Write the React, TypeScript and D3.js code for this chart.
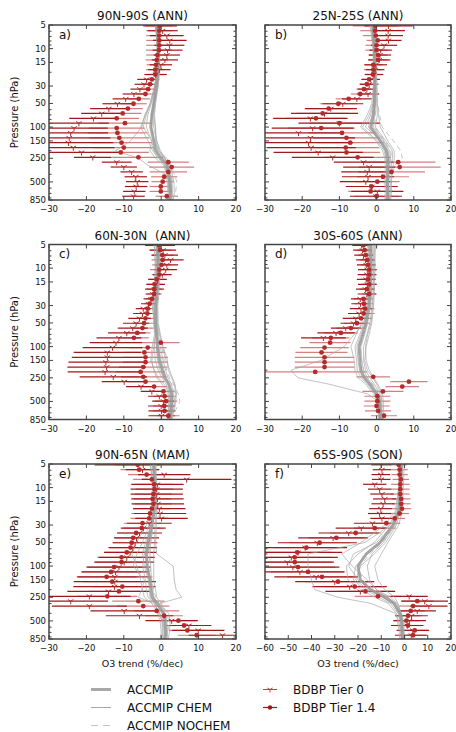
import React from "react";
import * as d3 from "d3";

// BDBP pressure levels (hPa), top to bottom
const LEVELS = [5.12, 5.91, 6.82, 7.86, 9.07, 10.46, 12.07, 13.93, 16.07, 18.54, 21.38, 24.67, 28.46, 32.83, 37.87, 43.69, 50.4, 58.14, 67.07, 77.37, 89.26, 103.0, 118.8, 137.0, 158.1, 182.4, 210.4, 242.7, 280.0, 323.0, 372.6, 429.9, 495.9, 572.1, 660.0, 761.4];
// ACCMIP model levels (hPa), bottom to top
const MODEL_LEVELS = [850, 700, 500, 400, 300, 250, 200, 150, 100, 70, 50, 30, 20, 10, 7, 5];

const Y_MAJOR = [5, 10, 15, 30, 50, 100, 150, 250, 500, 850];
const Y_MINOR = [6, 7, 8, 9, 20, 40, 60, 70, 80, 90, 200, 300, 400, 600, 700, 800];

const TITLES = ["90N-90S (ANN)", "25N-25S (ANN)", "60N-30N  (ANN)", "30S-60S (ANN)", "90N-65N (MAM)", "65S-90S (SON)"];
const LETTERS = ["a)", "b)", "c)", "d)", "e)", "f)"];
const X_DOMAINS = [[-30, 20], [-30, 20], [-30, 20], [-30, 20], [-30, 20], [-60, 20]];

// ---- Panel a ----
const T14_A = [-0.5, -0.5, -0.5, -0.5, -0.5, -0.6, -1.0, -1.2, -1.4, -1.6, -1.6, -2.5, -3.0, -3.5, -4.2, -6.0, -7.4, -8.9, -10.3, -11.9, -9.7, -11.9, -11.7, -11.2, -10.6, -10.0, -10.8, -6.1, 1.9, 2.8, 1.9, 0.8, 0.4, -0.1, -0.1, 1.5];
const E14_A = [3.5, 3.5, 3.5, 3.5, 3.5, 3.5, 3.0, 3.0, 2.5, 2.5, 2.5, 2.0, 2.0, 2.0, 2.5, 3.0, 3.5, 4.0, 5.0, 6.0, 7.0, 7.5, 8.0, 8.0, 8.0, 8.0, 7.5, 7.0, 5.5, 6.0, 5.0, 3.5, 3.0, 3.0, 3.0, 3.0];
const T0_A = [-0.3, 0.4, 1.5, 2.3, 2.2, 1.7, 1.5, 1.0, -0.1, -0.5, -1.5, -3.9, -4.6, -5.7, -7.3, -9.5, -11.7, -14.0, -15.9, -18.1, -22.0, -23.3, -24.2, -24.6, -24.8, -23.5, -21.3, -18.3, -11.9, -10.0, -7.9, -6.8, -6.4, -6.7, -7.2, -7.4];
const E0_A = [4.5, 4.0, 4.5, 4.5, 4.0, 4.0, 3.5, 3.5, 3.0, 3.0, 3.0, 2.5, 2.5, 2.5, 3.0, 3.5, 4.0, 5.0, 5.5, 6.5, 8.0, 9.0, 10.0, 11.0, 12.0, 11.0, 10.0, 5.0, 4.0, 3.5, 3.0, 3.0, 3.0, 3.0, 3.0, 3.0];
const MEAN_A = [2.3, 2.5, 2.3, 2.0, 1.5, 0.0, -1.5, -2.0, -2.8, -2.5, -2.0, -1.3, -0.9, -0.8, -1.0, -1.3];
const CHEM_A = [
  [2.0, 2.2, 2.0, 1.6, 0.8, -0.8, -2.3, -3.5, -5.5, -4.2, -2.8, -1.6, -1.2, -1.0, -1.1, -1.4],
  [1.5, 1.8, 1.6, 1.2, -3.9, -6.0, -12.2, -8.2, -5.2, -4.4, -3.0, -1.8, -1.3, -1.1, -1.2, -1.6],
  [2.8, 3.0, 2.9, 2.6, 2.0, 1.0, -0.2, -1.2, -2.0, -2.2, -1.8, -1.0, -0.6, -0.5, -0.8, -1.0],
  [3.2, 3.5, 3.4, 3.0, 2.5, 1.5, -0.8, -1.5, -1.5, -1.8, -1.5, -0.8, -0.4, -0.4, -0.6, -0.9],
  [2.1, 2.4, 2.2, 2.0, 1.0, -0.5, -2.0, -2.5, -4.0, -3.6, -2.6, -1.5, -1.0, -0.9, -1.1, -1.5],
  [2.5, 2.7, 2.4, 2.2, 1.6, 0.8, -1.0, -1.8, -2.5, -2.6, -2.0, -1.1, -0.8, -0.7, -0.9, -1.2],
  [1.8, 2.0, 1.9, 1.5, 0.5, -1.5, -3.0, -2.5, -4.8, -4.0, -2.9, -1.7, -1.1, -0.9, -1.0, -1.3],
  [2.6, 2.9, 2.7, 2.4, 1.8, 1.0, -0.5, -1.2, -1.6, -2.0, -1.6, -0.9, -0.7, -0.6, -0.9, -1.1],
];
const NOCHEM_A = [
  [3.0, 3.8, 4.2, 3.5, 2.5, 1.0, -0.8, -1.5, -2.5, -2.5, -2.0, -1.2, -0.8, -0.7, -0.9, -1.2],
  [2.2, 2.6, 3.0, 2.8, 2.2, 0.8, -0.5, -1.8, -2.8, -2.7, -2.1, -1.3, -0.9, -0.8, -1.0, -1.3],
];

// ---- Panel b ----
const T14_B = [-0.4, -0.4, -0.2, 0.3, 0.0, 0.0, 0.4, 0.4, -0.9, -0.9, -1.0, -2.0, -2.6, -3.4, -4.4, -7.5, -10.3, -12.9, -14.5, -16.3, -10.0, -14.9, -9.3, -8.1, -7.1, -8.3, -8.1, -5.1, 5.8, 6.2, 4.0, 1.7, 0.2, -1.4, -1.6, 0.0];
const E14_B = [6.0, 4.0, 3.5, 3.0, 3.0, 3.0, 2.5, 2.5, 2.5, 2.5, 2.0, 2.0, 2.0, 2.0, 2.5, 3.5, 5.0, 6.0, 7.0, 8.0, 8.0, 9.0, 9.0, 9.0, 9.0, 9.0, 9.0, 9.0, 10.0, 11.0, 9.0, 7.0, 6.0, 6.0, 6.0, 6.0];
const T0_B = [3.2, 3.1, 3.1, 3.2, 2.0, 1.1, 0.9, 0.7, -0.2, -0.4, -0.7, -1.6, -2.0, -2.6, -2.3, -5.3, -9.1, -12.3, -14.0, -17.8, -10.0, -17.2, -21.0, -17.8, -18.3, -17.6, -15.7, -11.8, -3.5, -2.0, -2.5, -2.3, -2.9, -1.3, 0.2, -0.2];
const E0_B = [6.5, 4.5, 4.0, 3.5, 3.5, 3.0, 3.0, 3.0, 3.0, 2.5, 2.5, 2.5, 2.5, 2.5, 3.0, 4.0, 5.5, 7.0, 9.0, 10.0, 11.0, 11.0, 12.0, 12.0, 12.0, 12.0, 12.0, 11.0, 8.0, 7.0, 7.0, 7.0, 7.0, 7.0, 7.0, 7.0];
const MEAN_B = [3.0, 3.0, 2.9, 3.0, 3.0, 3.0, 2.6, 1.0, -1.6, -0.9, -0.6, -0.5, -0.5, -0.6, -0.8, -1.0];
const CHEM_B = [
  [2.5, 2.6, 2.5, 2.6, 2.7, 2.5, 2.0, 0.2, -3.8, -2.0, -1.0, -0.7, -0.6, -0.8, -1.2, -1.6],
  [3.6, 3.7, 3.8, 3.9, 4.0, 4.3, 4.2, 2.5, -0.3, 0.2, 0.0, 0.0, 0.0, -0.2, -0.3, -0.5],
  [2.2, 2.3, 2.2, 2.3, 2.3, 2.2, 1.6, -0.2, -4.3, -2.5, -1.3, -0.9, -0.8, -1.0, -1.4, -1.8],
  [3.3, 3.4, 3.3, 3.5, 3.6, 3.8, 3.5, 2.0, -0.8, -0.5, -0.3, -0.2, -0.3, -0.4, -0.6, -0.8],
  [2.8, 2.9, 2.7, 2.8, 2.8, 2.6, 2.4, 0.8, -2.2, -1.2, -0.7, -0.6, -0.6, -0.7, -0.9, -1.2],
  [3.8, 4.0, 4.0, 4.2, 4.5, 4.8, 4.7, 3.0, 1.0, 0.5, 0.2, 0.1, 0.0, -0.1, -0.2, -0.4],
  [2.6, 2.8, 2.6, 2.7, 3.0, 3.2, 3.0, 1.4, -3.0, -1.6, -0.9, -0.6, -0.5, -0.7, -1.0, -1.4],
  [3.1, 3.2, 3.1, 3.2, 3.4, 3.5, 3.1, 1.8, -1.2, -0.7, -0.4, -0.4, -0.4, -0.5, -0.7, -0.9],
];
const NOCHEM_B = [
  [3.5, 3.6, 3.8, 4.2, 5.0, 6.9, 6.5, 4.5, 1.5, 0.8, 0.3, 0.0, -0.1, -0.3, -0.5, -0.7],
  [2.4, 2.5, 2.8, 3.0, 3.5, 4.0, 3.8, 2.2, -0.5, -0.3, -0.2, -0.3, -0.4, -0.5, -0.7, -0.9],
];

// ---- Panel c ----
const T14_C = [-0.6, -0.3, 0.3, 0.4, 0.1, -0.5, -0.5, -1.2, -1.8, -1.9, -1.9, -2.5, -3.1, -3.6, -3.7, -4.2, -4.6, -5.0, -6.4, -7.3, -0.1, -3.6, -4.5, -4.2, -4.2, -4.8, -5.5, -4.8, -4.2, -1.9, 0.6, 0.9, 1.3, 0.8, 0.9, 1.9];
const E14_C = [3.5, 3.0, 3.0, 3.0, 2.5, 2.5, 2.0, 2.0, 2.0, 2.0, 2.0, 1.5, 1.5, 1.5, 2.0, 2.5, 3.0, 3.0, 3.5, 4.0, 5.0, 5.0, 5.5, 6.0, 6.0, 6.5, 6.5, 6.0, 5.0, 3.5, 3.0, 3.0, 3.0, 3.0, 3.0, 3.0];
const T0_C = [-0.3, 0.5, 1.0, 2.5, 1.5, 1.2, 0.3, -1.0, -1.5, -1.8, -2.2, -2.7, -3.4, -4.8, -5.0, -5.8, -6.7, -7.6, -9.2, -11.3, -12.1, -13.0, -14.4, -14.4, -14.8, -14.6, -15.0, -12.8, -9.9, -5.4, -2.5, -0.5, 0.6, 0.0, 0.1, 0.1];
const E0_C = [4.0, 3.5, 3.5, 3.5, 3.0, 3.0, 2.5, 2.5, 2.5, 2.5, 2.0, 2.0, 2.0, 2.0, 2.5, 3.0, 3.5, 4.0, 5.0, 6.0, 7.0, 8.0, 9.0, 9.5, 10.0, 10.5, 10.0, 9.0, 6.0, 4.0, 3.0, 3.0, 3.0, 3.5, 3.5, 3.5];
const MEAN_C = [2.3, 2.6, 2.8, 2.8, 2.0, 1.0, 0.3, -0.5, -1.0, -1.2, -1.5, -1.5, -1.2, -0.9, -0.9, -1.0];
const CHEM_C = [
  [1.8, 2.0, 2.2, 2.1, 0.8, -0.8, -1.8, -2.8, -2.4, -1.8, -2.0, -2.2, -1.8, -1.5, -1.6, -1.8],
  [2.8, 3.2, 3.6, 3.9, 3.5, 2.8, 1.9, 1.7, 0.5, -0.2, -0.8, -0.9, -0.6, -0.2, -0.3, -0.4],
  [2.0, 2.3, 2.4, 2.3, 1.3, 0.2, -0.8, -1.6, -1.8, -1.6, -1.9, -2.0, -1.6, -1.2, -1.2, -1.4],
  [2.6, 2.9, 3.2, 3.3, 2.7, 1.8, 1.2, 0.5, -0.3, -0.7, -1.1, -1.1, -0.9, -0.6, -0.6, -0.7],
  [2.2, 2.5, 2.6, 2.5, 1.8, 0.6, -0.3, -1.0, -1.3, -1.4, -1.7, -1.7, -1.4, -1.0, -1.0, -1.2],
  [2.9, 3.3, 3.9, 4.1, 3.7, 3.0, 2.3, 1.3, 0.3, -0.4, -1.0, -1.2, -0.8, -0.4, -0.5, -0.6],
  [1.6, 1.9, 2.0, 1.8, 0.2, -1.2, -2.0, -2.5, -2.0, -1.5, -1.8, -2.4, -2.0, -1.6, -1.7, -1.9],
  [2.4, 2.7, 3.0, 3.0, 2.3, 1.3, 0.8, 0.0, -0.8, -1.0, -1.3, -1.3, -1.1, -0.8, -0.8, -0.9],
];
const NOCHEM_C = [
  [2.5, 3.5, 5.0, 4.6, 3.2, 2.2, 1.5, 0.8, 0.2, -0.5, -1.0, -1.3, -1.0, -0.6, -0.7, -0.8],
  [2.0, 2.8, 3.5, 3.8, 2.8, 1.6, 0.5, -0.2, -0.6, -0.9, -1.3, -1.4, -1.1, -0.8, -0.8, -0.9],
];

// ---- Panel d ----
const T14_D = [-3.5, -3.2, -2.9, -2.5, -2.3, -2.0, -2.0, -2.3, -2.0, -2.6, -2.0, -3.5, -3.4, -3.1, -3.5, -4.2, -5.3, -6.9, -9.6, -12.3, -12.5, -14.0, -14.8, -14.0, -14.0, -14.0, -16.5, -0.9, 8.7, 6.9, 1.7, 0.2, 0.2, 0.0, 0.4, 2.0];
const E14_D = [2.0, 2.0, 2.0, 2.0, 2.0, 2.0, 2.0, 2.0, 2.0, 2.0, 2.0, 2.5, 2.5, 2.5, 3.0, 3.0, 3.5, 4.0, 4.5, 5.0, 5.5, 6.5, 7.0, 8.0, 8.0, 8.0, 14.0, 4.5, 5.0, 4.5, 5.5, 3.5, 3.5, 3.5, 3.5, 3.5];
const T0_D = [-4.0, -3.8, -3.5, -3.0, -2.8, -2.5, -2.6, -2.8, -2.5, -3.0, -2.6, -4.4, -4.3, -4.2, -4.7, -5.6, -6.2, -8.3, -10.9, -14.3, null, null, null, null, null, null, null, null, null, null, null, null, null, null, null, null];
const E0_D = [2.5, 2.5, 2.5, 2.5, 2.5, 2.5, 2.5, 2.5, 2.5, 2.5, 2.5, 2.5, 2.5, 3.0, 3.0, 3.5, 3.5, 4.0, 5.0, 6.0, null, null, null, null, null, null, null, null, null, null, null, null, null, null, null, null];
const MEAN_D = [1.0, 1.0, 0.8, 0.0, -1.8, -3.3, -4.2, -4.5, -4.7, -3.7, -2.8, -2.0, -1.7, -1.5, -1.5, -1.5];
const CHEM_D = [
  [0.5, 0.5, 0.3, -0.8, -3.0, -5.0, -5.8, -6.0, -6.9, -5.5, -4.0, -3.0, -2.5, -2.2, -2.3, -2.4],
  [1.6, 1.5, 1.4, 1.2, 0.0, -1.0, -2.5, -3.2, -2.8, -2.0, -1.3, -0.8, -0.6, -0.4, -0.4, -0.3],
  [0.8, 0.8, 0.5, -2.5, -13.0, -21.2, -23.0, -15.0, -8.7, -6.0, -3.5, -2.4, -2.0, -1.8, -1.9, -2.0],
  [1.2, 1.2, 1.0, 0.4, -1.2, -2.5, -3.5, -4.0, -4.2, -3.2, -2.4, -1.6, -1.3, -1.2, -1.2, -1.3],
  [0.6, 0.7, 0.5, -0.5, -2.5, -4.2, -5.2, -5.4, -5.8, -4.5, -3.4, -2.6, -2.2, -2.0, -2.1, -2.2],
  [1.4, 1.4, 1.2, 0.8, -0.6, -1.8, -3.0, -3.5, -3.5, -2.6, -1.8, -1.2, -0.9, -0.8, -0.8, -0.8],
  [0.9, 0.9, 0.7, -0.2, -2.2, -3.8, -4.6, -5.0, -5.3, -4.2, -3.1, -2.2, -1.9, -1.7, -1.7, -1.8],
  [1.8, 1.9, 1.8, 1.6, 0.3, -0.7, -2.0, -2.8, -3.0, -2.4, -1.5, -1.0, -0.8, -0.6, -0.6, -0.5],
];
const NOCHEM_D = [
  [1.0, 1.2, 1.5, 1.0, -1.0, -2.5, -3.5, -4.0, -4.5, -3.5, -2.5, -1.8, -1.5, -1.4, -1.4, -1.4],
  [0.6, 0.9, 1.2, 0.5, -1.5, -3.0, -4.0, -4.3, -5.0, -3.8, -2.7, -1.9, -1.6, -1.5, -1.5, -1.5],
];

// ---- Panel e ----
const T14_E = [-6.3, -5.9, -3.9, -2.5, -1.9, -1.8, -2.1, -2.3, -2.1, -2.5, -3.0, -3.2, -5.0, -5.2, -6.7, -7.5, -7.9, -8.2, -9.2, -10.6, -10.6, -12.6, -13.4, -14.6, -13.1, -10.4, -11.3, -14.4, -6.1, -4.8, -1.2, 0.8, 4.6, 6.1, 7.0, 9.5];
const E14_E = [6.0, 5.0, 5.0, 5.0, 5.0, 5.0, 5.0, 5.0, 5.0, 5.0, 5.0, 5.0, 5.0, 5.0, 5.0, 5.0, 5.0, 5.5, 6.0, 6.5, 7.0, 7.5, 8.0, 8.0, 8.0, 8.0, 8.0, 8.0, 7.0, 7.0, 6.0, 5.0, 5.0, 5.0, 5.0, 5.0];
const T0_E = [-4.8, -5.0, 0.8, 6.8, -1.0, -1.2, -1.2, -1.0, -0.9, -0.5, -0.3, 0.1, -3.2, -4.8, -5.8, -6.6, -7.0, -7.6, -8.3, -9.2, -9.9, -11.3, -12.2, -12.4, -12.4, -12.5, -14.1, -19.2, -24.2, -19.2, -9.9, -5.8, 2.8, 7.4, 9.9, 16.4];
const E0_E = [13.0, 4.5, 7.0, 12.0, 7.0, 7.0, 7.0, 7.0, 7.0, 7.0, 7.0, 7.0, 6.0, 6.0, 6.0, 6.0, 6.0, 6.5, 7.0, 7.5, 8.0, 8.5, 9.0, 10.0, 11.0, 11.0, 11.0, 11.0, 10.0, 10.0, 9.0, 9.0, 7.0, 6.0, 7.0, 9.0];
const MEAN_E = [1.0, 1.2, 1.0, 0.5, -1.0, -2.5, -2.7, -3.0, -3.8, -4.0, -3.5, -2.5, -1.9, -1.8, -1.9, -2.0];
const CHEM_E = [
  [0.2, 0.5, 0.3, -0.8, -2.5, -4.5, -5.0, -5.5, -6.5, -7.9, -6.6, -3.9, -2.8, -2.4, -2.6, -3.0],
  [1.9, 2.2, 2.4, 2.0, -0.5, 5.5, 4.0, 3.5, 3.2, -1.2, -1.5, -1.3, -1.2, -1.2, -1.3, -1.4],
  [0.5, 0.8, 0.5, -0.3, -2.0, -6.1, -5.2, -4.5, -7.5, -6.5, -5.0, -3.2, -2.4, -2.2, -2.5, -2.8],
  [1.5, 1.7, 1.5, 1.0, 0.0, -1.2, -1.5, -2.0, -2.0, -2.0, -1.8, -1.6, -1.4, -1.4, -1.5, -1.6],
  [0.8, 1.0, 0.8, 0.3, -1.5, -3.0, -3.2, -3.5, -4.5, -5.0, -4.2, -2.8, -2.1, -2.0, -2.1, -2.3],
  [-0.3, 0.0, -0.3, -1.0, -1.5, -2.0, -2.2, -2.6, -2.8, -3.0, -2.8, -2.2, -1.7, -1.6, -1.7, -1.8],
  [1.2, 1.5, 1.3, 0.8, -0.6, -2.0, -2.5, -3.2, -3.5, -3.6, -3.0, -2.3, -1.8, -1.7, -1.8, -2.0],
  [0.0, 0.3, 0.2, -0.5, -1.8, -3.5, -4.0, -4.2, -5.0, -4.5, -3.8, -2.7, -2.0, -1.9, -2.0, -2.2],
];
const NOCHEM_E = [
  [0.8, 1.2, 1.5, 1.0, -0.5, -2.0, -2.2, -2.8, -3.5, -3.8, -3.2, -2.4, -1.9, -1.8, -1.9, -2.1],
  [1.5, 1.8, 2.0, 1.5, 0.2, -1.5, -2.0, -2.5, -3.0, -3.2, -2.8, -2.1, -1.7, -1.6, -1.7, -1.9],
];

// ---- Panel f ----
const T14_F = [-2.5, -2.1, -2.1, -1.6, -1.8, -1.8, -1.8, -1.4, -1.4, -1.1, -2.1, -4.2, -7.8, -12.8, -21.0, -29.3, -36.5, -42.2, -46.1, -47.2, -47.2, -45.8, -41.5, -35.5, -28.6, -21.4, -16.8, -11.4, 5.5, 3.7, 2.7, 1.5, 0.8, 1.5, 4.4, 3.7];
const E14_F = [3.5, 3.5, 3.5, 3.5, 4.0, 4.0, 4.0, 4.0, 4.0, 4.0, 4.0, 4.5, 6.0, 9.0, 11.0, 12.0, 13.0, 14.0, 15.0, 16.0, 16.0, 16.0, 16.0, 15.0, 14.0, 13.0, 12.0, 10.0, 7.0, 6.0, 6.0, 5.5, 5.5, 5.5, 5.5, 5.5];
const T0_F = [-10.0, -9.7, -10.2, -10.0, -12.8, -10.7, -9.7, -8.5, -9.2, -10.2, -10.7, -9.7, -13.8, -18.6, -24.0, -30.7, -37.5, -42.7, -45.8, -48.7, -50.4, -48.0, -45.0, -38.0, -30.0, -23.6, -19.0, 2.0, 8.7, 10.5, 5.5, 3.0, 2.2, 1.2, 3.6, 2.9];
const E0_F = [4.3, 4.0, 4.0, 4.0, 5.0, 5.0, 5.0, 5.0, 5.0, 5.0, 5.0, 5.0, 8.0, 11.0, 13.0, 15.0, 17.0, 18.0, 19.0, 20.0, 20.0, 20.0, 19.0, 18.0, 17.0, 16.0, 15.0, 8.0, 10.0, 8.0, 8.0, 7.0, 7.0, 7.0, 7.0, 7.0];
const MEAN_F = [-0.8, -1.0, -1.3, -2.0, -4.5, -8.5, -14.5, -19.0, -20.0, -16.5, -10.5, -5.0, -2.5, -1.8, -1.6, -1.5];
const CHEM_F = [
  [-1.5, -1.8, -2.5, -4.0, -14.3, -28.6, -38.6, -40.0, -41.5, -41.5, -17.0, -6.0, -3.0, -2.0, -1.8, -1.7],
  [-0.5, -0.6, -1.0, -1.5, -3.0, -6.0, -12.0, -16.0, -22.5, -27.0, -18.6, -8.5, -4.0, -2.5, -2.2, -2.0],
  [0.3, 0.0, -0.5, -1.2, -3.5, -7.5, -14.0, -20.0, -24.0, -22.0, -12.0, -5.0, -2.5, -1.5, -1.2, -1.0],
  [-1.2, -1.5, -2.0, -2.8, -6.0, -11.0, -17.0, -22.0, -21.0, -16.0, -10.0, -4.5, -2.2, -1.5, -1.3, -1.2],
  [-0.8, -1.0, -1.5, -2.2, -5.0, -9.5, -16.0, -21.0, -19.0, -13.0, -8.0, -3.5, -1.8, -1.2, -1.0, -0.8],
  [-0.2, -0.4, -0.8, -1.5, -2.8, -4.2, -8.5, -11.4, -12.8, -10.0, -7.1, -2.5, -1.0, -0.5, -0.3, -0.2],
  [-2.0, -2.3, -3.0, -3.5, -7.0, -12.8, -18.6, -24.3, -25.0, -20.0, -13.0, -6.5, -3.5, -2.5, -2.4, -2.3],
  [-0.5, -0.8, -1.2, -2.0, -4.0, -7.0, -12.0, -15.0, -16.0, -14.0, -9.0, -4.0, -2.0, -1.3, -1.1, -1.0],
];
const NOCHEM_F = [
  [-0.4, -0.7, -1.0, -1.6, -3.8, -7.5, -13.0, -18.0, -20.0, -17.0, -11.0, -5.0, -2.4, -1.6, -1.4, -1.3],
  [-1.0, -1.3, -1.6, -2.5, -5.0, -9.0, -15.0, -19.5, -19.0, -15.0, -9.5, -4.2, -2.0, -1.4, -1.2, -1.1],
];

const PANELS = [
  { t14: T14_A, e14: E14_A, t0: T0_A, e0: E0_A, mean: MEAN_A, chem: CHEM_A, nochem: NOCHEM_A },
  { t14: T14_B, e14: E14_B, t0: T0_B, e0: E0_B, mean: MEAN_B, chem: CHEM_B, nochem: NOCHEM_B },
  { t14: T14_C, e14: E14_C, t0: T0_C, e0: E0_C, mean: MEAN_C, chem: CHEM_C, nochem: NOCHEM_C },
  { t14: T14_D, e14: E14_D, t0: T0_D, e0: E0_D, mean: MEAN_D, chem: CHEM_D, nochem: NOCHEM_D },
  { t14: T14_E, e14: E14_E, t0: T0_E, e0: E0_E, mean: MEAN_E, chem: CHEM_E, nochem: NOCHEM_E },
  { t14: T14_F, e14: E14_F, t0: T0_F, e0: E0_F, mean: MEAN_F, chem: CHEM_F, nochem: NOCHEM_F },
];

const FONT = "DejaVu Sans, Verdana, sans-serif";
const COL_X = [49, 265];
const COL_W = [187, 186];
const ROW_TOP = [25, 244.5, 464];
const PH = 175;

const DARK = "#a3181b";
const LIGHT = "rgba(192,72,72,0.7)";
const MARK = "#b52a2a";
const GRAY = "#a4a4a4";

function triPath(cx: number, cy: number, r: number) {
  const a = 0.866 * r, b = 0.5 * r;
  return `M${cx},${cy}L${cx},${cy + r}M${cx},${cy}L${cx - a},${cy - b}M${cx},${cy}L${cx + a},${cy - b}`;
}

function Panel({ idx }: { idx: number }) {
  const p = PANELS[idx];
  const col = idx % 2, row = Math.floor(idx / 2);
  const x0 = COL_X[col], w = COL_W[col], top = ROW_TOP[row];
  const x = d3.scaleLinear().domain(X_DOMAINS[idx]).range([x0, x0 + w]);
  const y = d3.scaleLog().domain([5, 850]).range([top, top + PH]);
  const line = d3.line<number>().x((d) => x(d)).y((_d, i) => y(MODEL_LEVELS[i]));
  const xticks = d3.range(X_DOMAINS[idx][0], X_DOMAINS[idx][1] + 1, 10);
  const fmt = d3.format("d");
  const clip = `clip${idx}`;

  const bars = (vals: (number | null)[], errs: (number | null)[], color: string, key: string) =>
    vals.map((v, i) =>
      v == null || errs[i] == null ? null : (
        <line key={key + i} x1={x(v - (errs[i] as number))} x2={x(v + (errs[i] as number))} y1={y(LEVELS[i])} y2={y(LEVELS[i])} stroke={color} strokeWidth={1.2} />
      )
    );

  return (
    <g>
      <defs>
        <clipPath id={clip}>
          <rect x={x0} y={top} width={w} height={PH} />
        </clipPath>
      </defs>
      <g clipPath={`url(#${clip})`}>
        {bars(p.t14, p.e14, LIGHT, "b14")}
        {bars(p.t0, p.e0, DARK, "b0")}
        {p.chem.map((c, i) => (
          <path key={"c" + i} d={line(c) || ""} fill="none" stroke={GRAY} strokeOpacity={0.75} strokeWidth={0.9} />
        ))}
        {p.nochem.map((c, i) => (
          <path key={"n" + i} d={line(c) || ""} fill="none" stroke="#bcbcbc" strokeWidth={0.9} strokeDasharray="5,4" />
        ))}
        <path d={line(p.mean) || ""} fill="none" stroke="#999" strokeOpacity={0.85} strokeWidth={2.8} />
        {p.t0.map((v, i) =>
          v == null ? null : <path key={"m0" + i} d={triPath(x(v), y(LEVELS[i]), 3.2)} stroke={MARK} strokeWidth={1} fill="none" />
        )}
        {p.t14.map((v, i) =>
          v == null ? null : <circle key={"m14" + i} cx={x(v)} cy={y(LEVELS[i])} r={2.4} fill={MARK} />
        )}
      </g>
      {/* frame */}
      <rect x={x0} y={top} width={w} height={PH} fill="none" stroke="#444" strokeWidth={1.5} />
      {/* x ticks */}
      {xticks.map((t) => (
        <g key={"xt" + t}>
          <line x1={x(t)} x2={x(t)} y1={top + PH} y2={top + PH - 4} stroke="#444" strokeWidth={1} />
          <line x1={x(t)} x2={x(t)} y1={top} y2={top + 4} stroke="#444" strokeWidth={1} />
          <text x={x(t)} y={top + PH + 12} fontSize={8.5} textAnchor="middle" fontFamily={FONT} fill="#111">
            {fmt(t)}
          </text>
        </g>
      ))}
      {/* y ticks */}
      {Y_MAJOR.map((t) => (
        <g key={"ym" + t}>
          <line x1={x0} x2={x0 + 4} y1={y(t)} y2={y(t)} stroke="#444" strokeWidth={1} />
          <line x1={x0 + w} x2={x0 + w - 4} y1={y(t)} y2={y(t)} stroke="#444" strokeWidth={1} />
          {col === 0 ? (
            <text x={x0 - 3} y={y(t) + 3} fontSize={8.5} textAnchor="end" fontFamily={FONT} fill="#111">
              {t}
            </text>
          ) : null}
        </g>
      ))}
      {Y_MINOR.map((t) => (
        <g key={"yn" + t}>
          <line x1={x0} x2={x0 + 2.5} y1={y(t)} y2={y(t)} stroke="#444" strokeWidth={1} />
          <line x1={x0 + w} x2={x0 + w - 2.5} y1={y(t)} y2={y(t)} stroke="#444" strokeWidth={1} />
        </g>
      ))}
      <text x={x0 + w / 2} y={top - 5} fontSize={12} textAnchor="middle" fontFamily={FONT} fill="#111" xmlSpace="preserve">
        {TITLES[idx]}
      </text>
      <text x={x0 + 10} y={top + 13.5} fontSize={12} fontFamily={FONT} fill="#111">
        {LETTERS[idx]}
      </text>
      {col === 0 ? (
        <text transform={`translate(${18},${top + PH / 2}) rotate(-90)`} fontSize={10} textAnchor="middle" fontFamily={FONT} fill="#111">
          Pressure (hPa)
        </text>
      ) : null}
      {row === 2 ? (
        <text x={x0 + w / 2} y={top + PH + 28} fontSize={9.5} textAnchor="middle" fontFamily={FONT} fill="#111">
          O3 trend (%/dec)
        </text>
      ) : null}
    </g>
  );
}

function Legend() {
  const lx = 91, tx = 127, rx = 263, rtx = 293;
  const rows = [689.5, 707.5, 725.5];
  return (
    <g fontFamily={FONT} fontSize={12} fill="#111">
      <line x1={lx} x2={lx + 20} y1={rows[0]} y2={rows[0]} stroke="#a8a8a8" strokeWidth={3} />
      <text x={tx} y={rows[0] + 4.3}>ACCMIP</text>
      <line x1={lx} x2={lx + 20} y1={rows[1]} y2={rows[1]} stroke="#a8a8a8" strokeWidth={1} />
      <text x={tx} y={rows[1] + 4.3}>ACCMIP CHEM</text>
      <line x1={lx} x2={lx + 20} y1={rows[2]} y2={rows[2]} stroke="#c4c4c4" strokeWidth={1} strokeDasharray="7,5" />
      <text x={tx} y={rows[2] + 4.3}>ACCMIP NOCHEM</text>
      <line x1={rx} x2={rx + 14} y1={rows[0]} y2={rows[0]} stroke="#c04040" strokeWidth={1} />
      <path d={triPath(rx + 7, rows[0], 3)} stroke="#c04040" strokeWidth={1} fill="none" />
      <text x={rtx} y={rows[0] + 4.3}>BDBP Tier 0</text>
      <line x1={rx} x2={rx + 14} y1={rows[1]} y2={rows[1]} stroke={DARK} strokeWidth={1.2} />
      <circle cx={rx + 7} cy={rows[1]} r={2.2} fill={DARK} />
      <text x={rtx} y={rows[1] + 4.3}>BDBP Tier 1.4</text>
    </g>
  );
}

export default function App() {
  return (
    <svg width={456} height={732} viewBox="0 0 456 732" style={{ display: "block", position: "absolute", left: 0, top: 0, background: "#fff" }}>
      <rect x={0} y={0} width={456} height={732} fill="#fff" />
      {PANELS.map((_p, i) => (
        <Panel key={i} idx={i} />
      ))}
      <Legend />
    </svg>
  );
}
